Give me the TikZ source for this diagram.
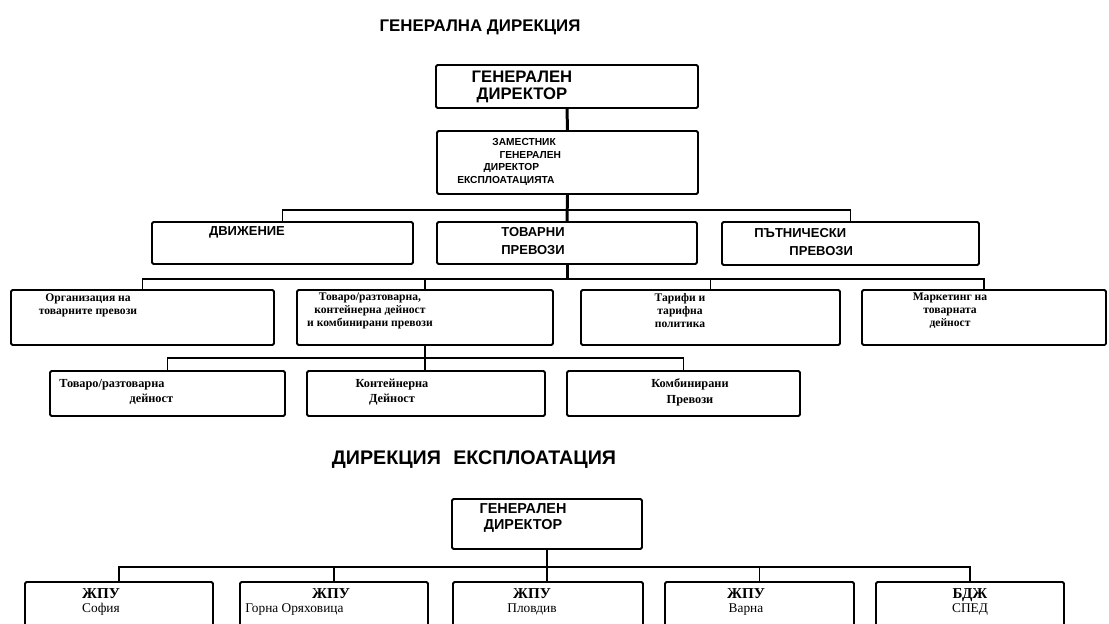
\documentclass[tikz,border=0pt]{standalone}
\usepackage{fontspec}
\setmainfont{Liberation Serif}
\newfontfamily\capsfont{Liberation Sans}
\usetikzlibrary{fit}

% rectangle node spanning two corner points (pixel grid, y downwards)
\newcommand\ocbox[5]{\node[box, fit={(#2,#3) (#4,#5)}] (#1) {};}

\begin{document}
\begin{tikzpicture}[x=0.02cm, y=-0.02cm,
  box/.style={draw, line width=1.1pt, rounded corners=0.8pt, inner sep=0pt},
  conn/.style={line width=0.8pt},
  trunk/.style={line width=1.7pt},
  title/.style={font=\capsfont\bfseries\fontsize{9.6}{11}\selectfont},
  titletwo/.style={font=\capsfont\bfseries\fontsize{11.2}{13}\selectfont},
  headcaps/.style={font=\capsfont\bfseries\fontsize{9.5}{9.7}\selectfont, inner sep=0pt},
  depcaps/.style={font=\capsfont\bfseries\fontsize{5.8}{7.3}\selectfont, inner sep=0pt},
  rowtwo/.style={font=\capsfont\bfseries\fontsize{7.4}{10.2}\selectfont, inner sep=0pt},
  rowthree/.style={font=\bfseries\fontsize{6.6}{7.4}\selectfont, inner sep=0pt},
  rowfour/.style={font=\bfseries\fontsize{7}{9}\selectfont, inner sep=0pt},
  gdtwo/.style={font=\capsfont\bfseries\fontsize{8.2}{9.2}\selectfont, inner sep=0pt},
  unit/.style={font=\fontsize{7.6}{8}\selectfont, inner sep=0pt, align=center}]
\useasboundingbox (0,0) rectangle (1109,623);
\fill[white] (0,0) rectangle (1109,623);
\clip (0,0) rectangle (1109,623);

% ---------- General directorate ----------
\node[title] (t1) at (480,27) {ГЕНЕРАЛНА ДИРЕКЦИЯ};

\ocbox{gd}{436}{65}{698}{108}
\node[headcaps, align=center] (gd-t) at (522,87) {ГЕНЕРАЛЕН\\ДИРЕКТОР};

\ocbox{dep}{437}{131}{698}{194}
\node[depcaps, align=left, anchor=west] (dep-t) at (457,162)
  {\hspace*{20pt}ЗАМЕСТНИК\\\hspace*{24pt}ГЕНЕРАЛЕН\\\hspace*{15pt}ДИРЕКТОР\\ЕКСПЛОАТАЦИЯТА};
\draw[trunk] (gd.south) -- (dep.north);

% second level
\coordinate (bus1) at (0,210);
\ocbox{dv}{152}{222}{413}{264}
\ocbox{tp}{437}{222}{697}{264}
\ocbox{pp}{722}{222}{979}{265}
\draw[conn] (dv.north) |- (bus1 -| pp.north) -- (pp.north);
\draw[trunk] (dep.south) -- (tp.north);
\node[rowtwo] (dv-t) at (247,232) {ДВИЖЕНИЕ};
\node[rowtwo, align=center] (tp-t) at (533,241) {ТОВАРНИ\\ПРЕВОЗИ};
\node[rowtwo, align=left, anchor=west] (pp-t) at (754,242) {ПЪТНИЧЕСКИ\\\hspace*{20pt}ПРЕВОЗИ};

% third level
\coordinate (bus2) at (0,279);
\ocbox{org}{11}{290}{274}{345}
\ocbox{tr}{297}{290}{553}{345}
\ocbox{tar}{581}{290}{840}{345}
\ocbox{mk}{862}{290}{1106}{345}
\draw[conn] (org.north) |- (bus2 -| mk.north) -- (mk.north);
\draw[conn] (tar.north) -- (tar.north |- bus2);
\draw[trunk] (tp.south) -- (tp.south |- bus2);
\draw[trunk] (tr.north) -- (tr.north |- bus2);
\node[rowthree, align=center] (org-t) at (88,305) {Организация на\\товарните превози};
\node[rowthree, align=center] (tr-t) at (370,311) {Товаро/разтоварна,\\контейнерна дейност\\и комбинирани превози};
\node[rowthree, align=center] (tar-t) at (680,311) {Тарифи и\\тарифна\\политика};
\node[rowthree, align=center] (mk-t) at (950,311) {Маркетинг на\\товарната\\дейност};

% fourth level
\coordinate (bus3) at (0,358);
\ocbox{trd}{50}{371}{285}{416}
\ocbox{kn}{307}{371}{545}{416}
\ocbox{kb}{567}{371}{800}{416}
\draw[conn] (trd.north) |- (bus3 -| kb.north) -- (kb.north);
\draw[trunk] (tr.south) -- (tr.south |- kn.north);
\node[rowfour, align=left, anchor=west] (trd-t) at (59,392) {Товаро/разтоварна\\\hspace*{40pt}дейност};
\node[rowfour, align=center] (kn-t) at (392,392) {Контейнерна\\Дейност};
\node[rowfour, align=center] (kb-t) at (690,392) {Комбинирани\\Превози};

% ---------- Operations directorate ----------
\node[titletwo] (t2) at (474,460) {ДИРЕКЦИЯ\hspace{7pt}ЕКСПЛОАТАЦИЯ};

\ocbox{gd2}{452}{499}{642}{549}
\node[gdtwo, align=center] (gd2-t) at (523,518) {ГЕНЕРАЛЕН\\ДИРЕКТОР};

\coordinate (bus4) at (0,567);
\ocbox{sof}{25}{582}{213}{640}
\ocbox{gor}{240}{582}{428}{640}
\ocbox{plo}{453}{582}{643}{640}
\ocbox{var}{665}{582}{854}{640}
\ocbox{bdj}{876}{582}{1064}{640}
\draw[conn] (sof.north) |- (bus4 -| bdj.north) -- (bdj.north);
\draw[conn] (gd2.south) -- (gd2.south |- plo.north);
\draw[conn] (gor.north) -- (gor.north |- bus4);
\draw[conn] (var.north) -- (var.north |- bus4);

\node[unit] (sof-t) at (101,602) {\textbf{\fontsize{8.6}{8}\selectfont ЖПУ}\\София};
\node[unit, align=left, anchor=west] (gor-t) at (245,602) {\hspace*{38pt}\textbf{\fontsize{8.6}{8}\selectfont ЖПУ}\\Горна Оряховица};
\node[unit] (plo-t) at (532,602) {\textbf{\fontsize{8.6}{8}\selectfont ЖПУ}\\Пловдив};
\node[unit] (var-t) at (746,602) {\textbf{\fontsize{8.6}{8}\selectfont ЖПУ}\\Варна};
\node[unit] (bdj-t) at (970,602) {\textbf{\fontsize{8.6}{8}\selectfont БДЖ}\\СПЕД};
\end{tikzpicture}
\end{document}
